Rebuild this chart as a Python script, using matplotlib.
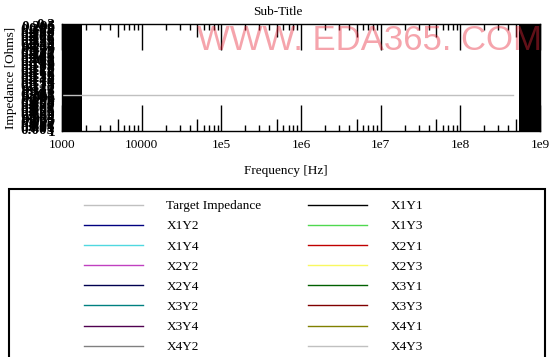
"""
Impedance vs frequency plot (PDN target impedance view)
"""

import matplotlib

matplotlib.use("Agg")
import matplotlib.pyplot as plt
from matplotlib.lines import Line2D
from matplotlib.patches import Rectangle
from matplotlib.ticker import FixedLocator, NullFormatter

plt.rcParams["font.family"] = ["Liberation Serif", "DejaVu Serif"]
plt.rcParams["font.size"] = 9.5

# ----------------------------------------------------------------------------
# Data
# ----------------------------------------------------------------------------
freq_range = [1e3, 1e9]
freq_ticks = [1e3, 1e4, 1e5, 1e6, 1e7, 1e8, 1e9]
freq_tick_labels = ["1000", "10000", "1e5", "1e6", "1e7", "1e8", "1e9"]
half_decade_ticks = [5e3, 5e4, 5e5, 5e6, 5e7, 5e8]

imp_range = [0.0, 0.3]
imp_ticks = [i / 200 for i in range(0, 61)]
imp_tick_labels = ["1"] + [f"{v:g}" for v in imp_ticks[1:]]

# target impedance line
target_freq = [1e3, 4.6e8]
target_imp = [0.1, 0.1]

# solid bands where the traces pile up at the ends of the sweep
band_low = [1e3, 1.77e3]
band_high = [5.5e8, 1e9]

series_names = [
    "Target Impedance",
    "X1Y1", "X1Y2", "X1Y3", "X1Y4",
    "X2Y1", "X2Y2", "X2Y3", "X2Y4",
    "X3Y1", "X3Y2", "X3Y3", "X3Y4",
    "X4Y1", "X4Y2", "X4Y3", "X4Y4",
]
series_colors = [
    "#c0c0c0",
    "#000000", "#000080", "#50d850", "#50d8e0",
    "#c00000", "#c040c0", "#f8f860", "#000050",
    "#006000", "#008080", "#800000", "#500050",
    "#808000", "#808080", "#c0c0c0", "#8080c0",
]

# ----------------------------------------------------------------------------
# Figure
# ----------------------------------------------------------------------------
W, H = 549, 357
fig = plt.figure(figsize=(W / 100, H / 100), dpi=100)
ax = fig.add_axes([62 / W, 1 - 131 / H, 478 / W, 107 / H])

ax.set_xscale("log")
ax.set_xlim(freq_range)
ax.set_ylim(imp_range)

ax.axvspan(band_low[0], band_low[1], color="black", lw=0)
ax.axvspan(band_high[0], band_high[1], color="black", lw=0)
ax.plot(target_freq, target_imp, color=series_colors[0], linewidth=1)

# medium ticks at the half decades, on a twin axis
ax5 = ax.twiny()
ax5.set_xscale("log")
ax5.set_xlim(freq_range)
ax5.xaxis.set_major_locator(FixedLocator(half_decade_ticks))
ax5.xaxis.set_minor_locator(FixedLocator([]))
ax5.tick_params(axis="x", direction="in", length=9, width=1, bottom=True,
                top=True, labelbottom=False, labeltop=False)
for s in ax5.spines.values():
    s.set_visible(False)
ax5.set_yticks([])

# x ticks: decades long, the rest short
ax.xaxis.set_major_locator(FixedLocator(freq_ticks))
ax.set_xticklabels(freq_tick_labels)
minor = [m * d for d in freq_ticks[:-1] for m in (2, 3, 4, 6, 7, 8, 9)]
ax.xaxis.set_minor_locator(FixedLocator(minor))
ax.xaxis.set_minor_formatter(NullFormatter())
ax.tick_params(axis="x", which="major", direction="in", length=19, width=1,
               top=True, bottom=True, labeltop=False, pad=5.5)
ax.tick_params(axis="x", which="minor", direction="in", length=4, width=1,
               top=True, bottom=True)

# y ticks (labels pile on top of each other like in the original export)
ax.set_yticks(imp_ticks)
ax.set_yticklabels(imp_tick_labels, fontweight="bold", fontsize=11)
ax.tick_params(axis="y", length=0, pad=5)

for s in ax.spines.values():
    s.set_linewidth(1)

ax.set_xlabel("Frequency [Hz]")
ax.xaxis.set_label_coords((286 - 62) / 478, (131 - 165) / 107)
ax.xaxis.label.set_va("top")
ax.set_ylabel("Impedance [Ohms]")
ax.yaxis.set_label_coords((17 - 62) / 478, (131 - 78) / 107)

fig.text(278 / W, 1 - 12 / H, "Sub-Title", ha="center", va="center")

# watermark
fig.text(197 / W, 1 - 50 / H, "WWW. EDA365. COM", family="Liberation Sans",
         fontsize=25, color="#e8283a", alpha=0.42, ha="left", va="baseline",
         zorder=10)

# legend box + entries (row-major order, matplotlib fills columns)
fig.patches.append(Rectangle((9 / W, -0.1), 536 / W, 1 - 189 / H + 0.1,
                             transform=fig.transFigure, fill=False,
                             edgecolor="black", linewidth=1.5))
handles = [Line2D([], [], color=c, linewidth=1) for c in series_colors]
order = list(range(0, len(handles), 2)) + list(range(1, len(handles), 2))
fig.legend([handles[i] for i in order], [series_names[i] for i in order],
           ncol=2, loc="upper left", bbox_to_anchor=(84 / W, 1 - 200 / H),
           frameon=False, borderpad=0, borderaxespad=0,
           handlelength=4.5, handletextpad=1.75, labelspacing=0.6,
           columnspacing=3.5)

fig.savefig("out.png", dpi=100)
